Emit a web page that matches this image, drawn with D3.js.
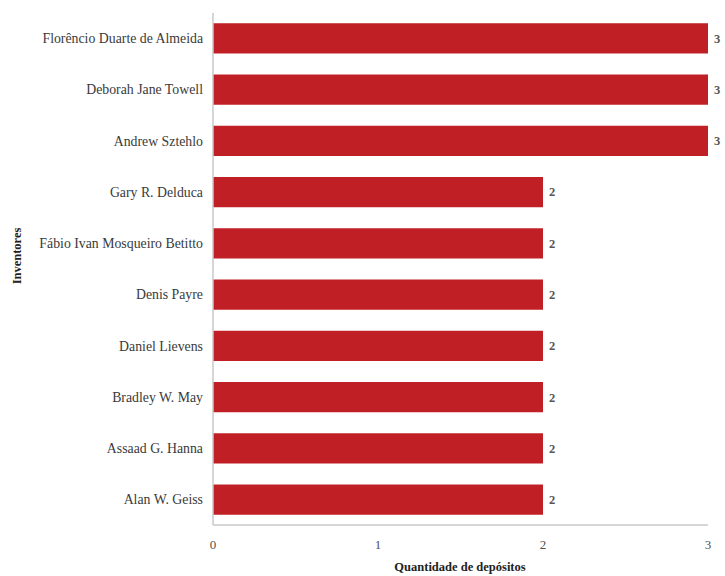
<!DOCTYPE html>
<html><head><meta charset="utf-8">
<script src="https://cdn.jsdelivr.net/npm/d3@7"></script>
<style>body{margin:0;background:#fff}svg{display:block}text{font-family:"Liberation Serif","DejaVu Serif",serif}</style>
</head><body>
<script>
const inventors = ["Florêncio Duarte de Almeida","Deborah Jane Towell","Andrew Sztehlo","Gary R. Delduca","Fábio Ivan Mosqueiro Betitto","Denis Payre","Daniel Lievens","Bradley W. May","Assaad G. Hanna","Alan W. Geiss"];
const deposits = [3,3,3,2,2,2,2,2,2,2];
const xTicks = [0,1,2,3];
const xTitle = "Quantidade de depósitos";
const yTitle = "Inventores";

const W = 725, H = 576;
const m = {left:213, right:17, top:13, bottom:51};
const svg = d3.select("body").append("svg").attr("width",W).attr("height",H);

const x = d3.scaleLinear().domain([0,3]).range([m.left, W-m.right]);
const y = d3.scaleBand().domain(inventors).range([m.top, H-m.bottom]).paddingInner(0.41).paddingOuter(0.2);

svg.selectAll("rect.bar").data(inventors).join("rect").attr("class","bar")
  .attr("x", x(0)).attr("y", d=>y(d))
  .attr("width", (d,i)=>x(deposits[i])-x(0)).attr("height", y.bandwidth())
  .attr("fill","#c01f26");

svg.append("line").attr("x1",x(0)).attr("x2",x(0)).attr("y1",m.top).attr("y2",H-m.bottom).attr("stroke","#c8c8c8").attr("stroke-width",1.5);
svg.append("line").attr("x1",x(0)).attr("x2",x(3)).attr("y1",H-m.bottom).attr("y2",H-m.bottom).attr("stroke","#c8c8c8").attr("stroke-width",1.5);

svg.selectAll("text.yl").data(inventors).join("text").attr("class","yl")
  .attr("x", x(0)-10).attr("y", d=>y(d)+y.bandwidth()/2).attr("dy","0.35em")
  .attr("text-anchor","end").attr("font-size",13.8).attr("fill","#3a3a3a")
  .text(d=>d);

svg.selectAll("text.vl").data(inventors).join("text").attr("class","vl")
  .attr("x", (d,i)=>x(deposits[i])+6).attr("y", d=>y(d)+y.bandwidth()/2).attr("dy","0.35em")
  .attr("font-size",12.5).attr("font-weight","bold").attr("fill","#555")
  .text((d,i)=>deposits[i]);

svg.selectAll("text.xt").data(xTicks).join("text").attr("class","xt")
  .attr("x", d=>x(d)).attr("y", H-m.bottom+24)
  .attr("text-anchor","middle").attr("font-size",13).attr("fill","#505050")
  .text(d=>d);

svg.append("text").attr("x", 460).attr("y", 571).attr("text-anchor","middle")
  .attr("font-size",12.5).attr("font-weight","bold").attr("fill","#222").text(xTitle);

svg.append("text").attr("transform","translate(21,256) rotate(-90)").attr("text-anchor","middle")
  .attr("font-size",12.5).attr("font-weight","bold").attr("fill","#222").text(yTitle);
</script>
</body></html>
